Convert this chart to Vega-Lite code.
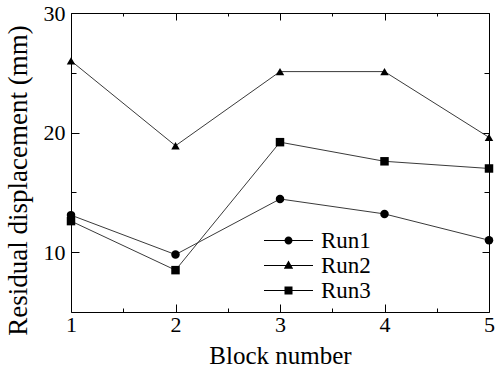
{
  "$schema": "https://vega.github.io/schema/vega-lite/v6.json",
  "width": 418,
  "height": 299,
  "autosize": {"type": "none"},
  "padding": {"left": 71, "top": 13, "right": 7, "bottom": 57},
  "background": "white",
  "config": {
    "view": {"stroke": null},
    "font": "Liberation Serif",
    "axis": {
      "labelFont": "Liberation Serif",
      "titleFont": "Liberation Serif",
      "labelColor": "black",
      "titleColor": "black",
      "domainColor": "black",
      "tickColor": "black",
      "grid": false,
      "labelFontSize": 22,
      "titleFontWeight": "normal"
    },
    "legend": {"labelFont": "Liberation Serif"}
  },
  "data": {
    "values": [
      {"run": "Run1", "block": 1, "value": 13.1},
      {"run": "Run1", "block": 2, "value": 9.8},
      {"run": "Run1", "block": 3, "value": 14.45},
      {"run": "Run1", "block": 4, "value": 13.2},
      {"run": "Run1", "block": 5, "value": 11.0},
      {"run": "Run2", "block": 1, "value": 26.0},
      {"run": "Run2", "block": 2, "value": 18.9},
      {"run": "Run2", "block": 3, "value": 25.1},
      {"run": "Run2", "block": 4, "value": 25.1},
      {"run": "Run2", "block": 5, "value": 19.6},
      {"run": "Run3", "block": 1, "value": 12.6},
      {"run": "Run3", "block": 2, "value": 8.5},
      {"run": "Run3", "block": 3, "value": 19.2},
      {"run": "Run3", "block": 4, "value": 17.6},
      {"run": "Run3", "block": 5, "value": 17.0}
    ]
  },
  "layer": [
    {
      "mark": {"type": "line", "color": "#3a3a3a", "strokeWidth": 1},
      "encoding": {
        "x": {
          "field": "block", "type": "quantitative",
          "scale": {"domain": [1, 5], "nice": false, "zero": false},
          "axis": {"orient": "bottom", "values": [1, 2, 3, 4, 5], "tickSize": -8, "labelPadding": 10,
                   "title": "Block number", "titleFontSize": 25, "titlePadding": 8, "format": "d", "labelFlush": false}
        },
        "y": {
          "field": "value", "type": "quantitative",
          "scale": {"domain": [5, 30], "nice": false, "zero": false},
          "axis": {"orient": "left", "values": [10, 20, 30], "tickSize": -8, "labelPadding": 14,
                   "title": "Residual displacement (mm)", "titleFontSize": 27, "titlePadding": 11, "titleY": 167, "labelFlush": false}
        },
        "detail": {"field": "run"}
      }
    },
    {
      "mark": {"type": "point", "filled": true, "color": "black", "opacity": 1, "size": 72},
      "encoding": {
        "x": {"field": "block", "type": "quantitative",
              "axis": {"orient": "bottom", "values": [1.5, 2.5, 3.5, 4.5], "tickSize": -4, "labels": false, "domain": false, "title": null}},
        "y": {"field": "value", "type": "quantitative",
              "axis": {"orient": "left", "values": [15, 25], "tickSize": -5, "labels": false, "domain": false, "title": null}},
        "shape": {"field": "run", "type": "nominal",
                  "scale": {"domain": ["Run1", "Run2", "Run3"], "range": ["circle", "triangle-up", "square"]},
                  "legend": null}
      }
    },
    {
      "transform": [{"filter": "datum.block > 100"}],
      "mark": {"type": "point", "filled": true, "color": "black", "opacity": 1},
      "encoding": {
        "x": {"field": "block", "type": "quantitative",
              "axis": {"orient": "top", "values": [1, 2, 3, 4, 5], "tickSize": -7, "labels": false, "title": null}},
        "y": {"field": "value", "type": "quantitative",
              "axis": {"orient": "right", "values": [10, 20, 30], "tickSize": -7, "labels": false, "title": null}},
        "shape": {"field": "run", "type": "nominal",
                  "scale": {"domain": ["Run1", "Run2", "Run3"],
                            "range": [
                              "M-2.45,-0.05H2.45V0.05H-2.45ZM0.4,0A0.4,0.4,0,1,1,-0.4,0A0.4,0.4,0,1,1,0.4,0Z",
                              "M-2.45,-0.05H2.45V0.05H-2.45ZM0,-0.5L0.47,0.32L-0.47,0.32Z",
                              "M-2.45,-0.05H2.45V0.05H-2.45ZM-0.4,-0.4H0.4V0.4H-0.4Z"
                            ]},
                  "legend": {
                    "orient": "none", "legendX": 206, "legendY": 216,
                    "title": null, "symbolSize": 400, "symbolStrokeWidth": 0,
                    "symbolFillColor": "black",
                    "labelFontSize": 23, "labelColor": "black", "labelOffset": 21, "rowPadding": 1
                  }}
      }
    },
    {
      "transform": [{"filter": "datum.block > 100"}],
      "mark": {"type": "point"},
      "encoding": {
        "x": {"field": "block", "type": "quantitative",
              "axis": {"orient": "top", "values": [1.5, 2.5, 3.5, 4.5], "tickSize": -3, "labels": false, "domain": false, "title": null}},
        "y": {"field": "value", "type": "quantitative",
              "axis": {"orient": "right", "values": [15, 25], "tickSize": -5, "labels": false, "domain": false, "title": null}}
      }
    }
  ],
  "resolve": {
    "scale": {"shape": "independent"},
    "axis": {"x": "independent", "y": "independent"}
  }
}
